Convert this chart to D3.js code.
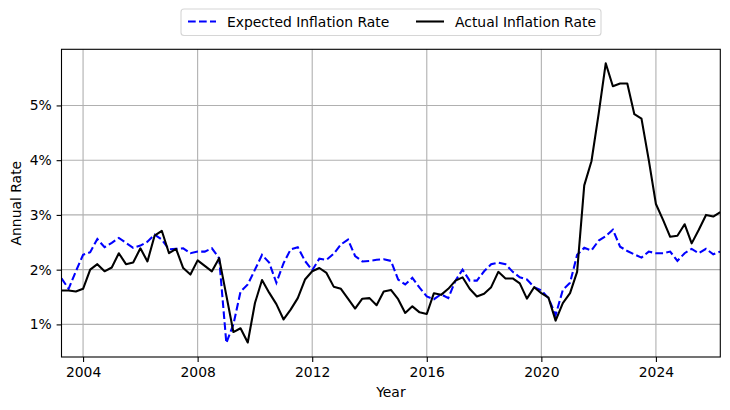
<!DOCTYPE html>
<html>
<head>
<meta charset="utf-8">
<script src="https://cdn.jsdelivr.net/npm/d3@7"></script>
<style>
  body { margin: 0; background: #fff; }
  svg { display: block; font-family: "DejaVu Sans", sans-serif; }
</style>
</head>
<body>
<svg id="chart" width="730" height="410"></svg>
<script>
// ---- data (quarterly, Q2 2003 .. Q2 2026) ----
const startQuarter = "2003-04-01";
const endQuarter = "2026-04-01";
const expectedRate = [
  1.84, 1.65, 1.97, 2.27, 2.32, 2.56, 2.41, 2.49, 2.58, 2.49,
  2.40, 2.44, 2.51, 2.64, 2.55, 2.37, 2.38, 2.39, 2.30, 2.33,
  2.33, 2.39, 2.21, 0.66, 1.00, 1.60, 1.73, 2.00, 2.27, 2.13,
  1.76, 2.12, 2.37, 2.41, 2.16, 1.99, 2.20, 2.18, 2.29, 2.46,
  2.55, 2.25, 2.15, 2.16, 2.18, 2.19, 2.16, 1.82, 1.73, 1.85,
  1.67, 1.51, 1.46, 1.55, 1.48, 1.80, 2.00, 1.80, 1.80, 1.97,
  2.10, 2.13, 2.10, 1.96, 1.86, 1.82, 1.68, 1.62, 1.48, 1.17,
  1.63, 1.76, 2.27, 2.40, 2.35, 2.53, 2.61, 2.73, 2.42, 2.34,
  2.28, 2.22, 2.33, 2.30, 2.30, 2.33, 2.16, 2.30, 2.38, 2.30,
  2.38, 2.28, 2.33
];
const actualRate = [
  1.62, 1.62, 1.60, 1.65, 2.00, 2.10, 1.97, 2.04, 2.30, 2.10,
  2.13, 2.39, 2.15, 2.62, 2.71, 2.30, 2.38, 2.03, 1.91, 2.17,
  2.07, 1.97, 2.21, 1.53, 0.86, 0.93, 0.67, 1.39, 1.81, 1.58,
  1.37, 1.09, 1.27, 1.48, 1.82, 1.97, 2.03, 1.94, 1.69, 1.65,
  1.47, 1.29, 1.47, 1.48, 1.35, 1.60, 1.63, 1.46, 1.21, 1.33,
  1.22, 1.19, 1.57, 1.54, 1.65, 1.80, 1.86, 1.65, 1.51, 1.56,
  1.68, 1.96, 1.84, 1.84, 1.75, 1.47, 1.68, 1.57, 1.49, 1.07,
  1.39, 1.57, 1.96, 3.54, 3.98, 4.85, 5.77, 5.35, 5.40, 5.40,
  4.84, 4.76, 4.01, 3.20, 2.91, 2.60, 2.62, 2.83, 2.48, 2.73,
  3.00, 2.97, 3.05
];
const yTickValues = [1, 2, 3, 4, 5];
const seriesNames = ["Expected Inflation Rate", "Actual Inflation Rate"];
const xLabel = "Year";
const yLabel = "Annual Rate";

// ---- build ----
const parse = d3.timeParse("%Y-%m-%d");
const quarters = d3.timeMonth.every(3).range(parse(startQuarter), d3.timeDay.offset(parse(endQuarter), 1));
const expectedData = quarters.map((d, i) => ({date: d, v: expectedRate[i]}));
const actualData = quarters.map((d, i) => ({date: d, v: actualRate[i]}));

const svg = d3.select("#chart");
const L = 61.5, R = 720.3, T = 49.3, B = 357;
const FS = 13.9;

const allVals = expectedRate.concat(actualRate);
const vmin = d3.min(allVals), vmax = d3.max(allVals);
const pad = (vmax - vmin) * 0.05;

const x = d3.scaleTime().domain(d3.extent(quarters)).range([L, R]);
const y = d3.scaleLinear().domain([vmin - pad, vmax + pad]).range([B, T]);

const xTicks = d3.timeYear.every(4).range(quarters[0], quarters[quarters.length - 1]);

// grid
const grid = svg.append("g").attr("stroke", "#b0b0b0").attr("stroke-width", 1.1);
grid.selectAll("line.gx").data(xTicks).join("line")
  .attr("x1", d => x(d)).attr("x2", d => x(d)).attr("y1", T).attr("y2", B);
grid.selectAll("line.gy").data(yTickValues).join("line")
  .attr("x1", L).attr("x2", R).attr("y1", d => y(d)).attr("y2", d => y(d));

// clip
svg.append("clipPath").attr("id", "clip").append("rect")
  .attr("x", L).attr("y", T).attr("width", R - L).attr("height", B - T);

const line = d3.line().x(d => x(d.date)).y(d => y(d.v));
svg.append("path").datum(expectedData).attr("clip-path", "url(#clip)")
  .attr("fill", "none").attr("stroke", "#0000ff").attr("stroke-width", 2.08)
  .attr("stroke-dasharray", "7.7,3.3").attr("d", line);
svg.append("path").datum(actualData).attr("clip-path", "url(#clip)")
  .attr("fill", "none").attr("stroke", "#000000").attr("stroke-width", 2.08)
  .attr("stroke-linejoin", "round").attr("d", line);

// axes
const xAxis = d3.axisBottom(x).tickValues(xTicks).tickFormat(d3.timeFormat("%Y"))
  .tickSize(4.9).tickPadding(4.9);
const yAxis = d3.axisLeft(y).tickValues(yTickValues).tickFormat(d => d + "%")
  .tickSize(4.9).tickPadding(4.9);

const gx = svg.append("g").attr("transform", `translate(0,${B})`).call(xAxis);
const gy = svg.append("g").attr("transform", `translate(${L},0)`).call(yAxis);
[gx, gy].forEach(g => {
  g.select(".domain").remove();
  g.selectAll(".tick line").attr("stroke", "#000").attr("stroke-width", 1.1);
  g.selectAll(".tick text").attr("fill", "#000").attr("font-size", FS)
    .attr("font-family", "DejaVu Sans");
});

// frame
svg.append("rect").attr("x", L).attr("y", T).attr("width", R - L).attr("height", B - T)
  .attr("fill", "none").attr("stroke", "#000").attr("stroke-width", 1.1);

// labels
svg.append("text").attr("x", (L + R) / 2).attr("y", 397).attr("text-anchor", "middle")
  .attr("font-size", FS).text(xLabel);
svg.append("text").attr("transform", `translate(21,${(T + B) / 2}) rotate(-90)`)
  .attr("text-anchor", "middle").attr("font-size", FS).text(yLabel);

// legend
const lg = svg.append("g");
lg.append("rect").attr("x", 181).attr("y", 9).attr("width", 420).attr("height", 26.5)
  .attr("rx", 3).attr("fill", "#fff").attr("fill-opacity", 0.8)
  .attr("stroke", "#d6d6d6").attr("stroke-width", 1.1);
const legendItems = [
  {name: seriesNames[0], color: "#0000ff", dash: "7.7,3.3", x0: 188},
  {name: seriesNames[1], color: "#000000", dash: null, x0: 416}
];
legendItems.forEach(it => {
  lg.append("line").attr("x1", it.x0).attr("x2", it.x0 + 28).attr("y1", 21.5).attr("y2", 21.5)
    .attr("stroke", it.color).attr("stroke-width", 2.08)
    .attr("stroke-dasharray", it.dash);
  lg.append("text").attr("x", it.x0 + 39).attr("y", 26.5).attr("font-size", FS).text(it.name);
});
</script>
</body>
</html>
